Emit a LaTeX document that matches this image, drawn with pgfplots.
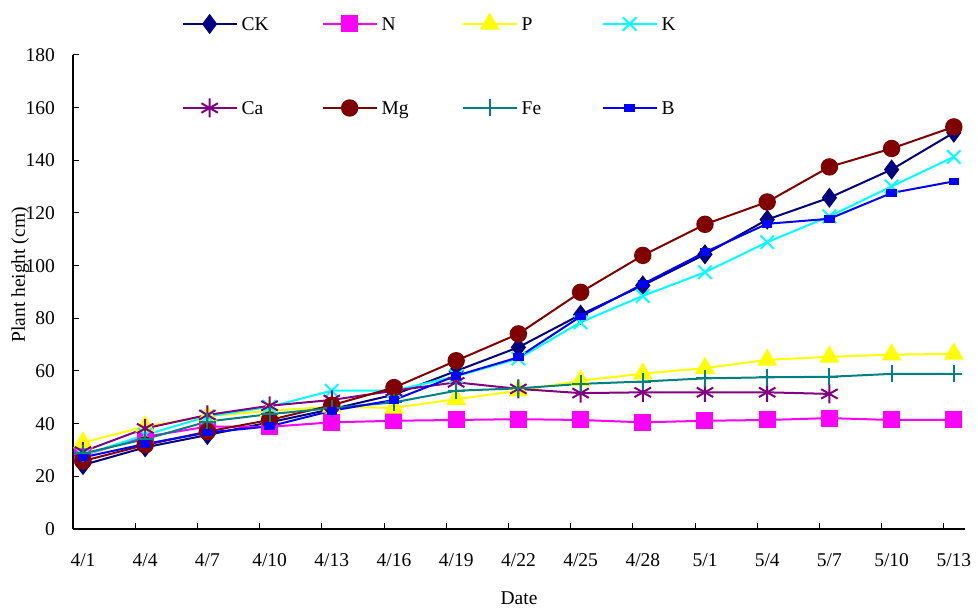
\documentclass[border=0pt]{standalone}
\usepackage{fontspec}
\setmainfont{Liberation Serif}
\usepackage{pgfplots}
\pgfplotsset{compat=1.18}
\definecolor{ckc}{RGB}{0,0,128}
\definecolor{nc}{RGB}{255,0,255}
\definecolor{pc}{RGB}{255,255,0}
\definecolor{kc}{RGB}{0,255,255}
\definecolor{cac}{RGB}{128,0,128}
\definecolor{mgc}{RGB}{128,0,0}
\definecolor{fec}{RGB}{0,128,128}
\definecolor{bc}{RGB}{0,0,255}
\newcommand{\lt}[1]{\makebox[84pt][l]{\hspace{4pt}#1}}
\begin{document}
\begin{tikzpicture}
\begin{axis}[
  scale only axis, width=892pt, height=474pt,
  xmin=-0.16, xmax=14.18, ymin=0, ymax=180,
  clip=false,
  font=\fontsize{19.5pt}{23pt}\selectfont,
  /pgf/number format/assume math mode=true,
  axis x line=bottom, axis y line=left,
  axis line style={-, line width=1.2pt, black},
  xtick={-0.16,0.84,1.84,2.84,3.84,4.84,5.84,6.84,7.84,8.84,9.84,10.84,11.84,12.84,13.84},
  xticklabels={4/1,4/4,4/7,4/10,4/13,4/16,4/19,4/22,4/25,4/28,5/1,5/4,5/7,5/10,5/13},
  ytick={0,20,...,180},
  tick align=inside, major tick length=6pt,
  tick style={black, line width=1pt},
  xticklabel style={inner sep=0pt, anchor=north, xshift=10pt, yshift=-24pt},
  yticklabel style={inner sep=0pt, anchor=east, xshift=-18pt},
  xlabel={Date},
  xlabel style={at={(axis description cs:0.5,0)}, anchor=base, yshift=-76pt, inner sep=0pt},
  ylabel={Plant height (cm)},
  ylabel style={at={(axis description cs:0,0.536)}, anchor=base, yshift=48pt, inner sep=0pt},
  legend columns=4,
  legend cell align=left,
  legend style={at={(0.1216,0.9768)}, anchor=west, draw=none, fill=none, inner sep=0pt,
    nodes={inner sep=0pt, text height=14pt, text depth=1pt},
    column sep=0pt, row sep=66pt},
  legend image code/.code={\draw[mark repeat=2,mark phase=2,#1] plot coordinates {(0pt,0pt) (27pt,0pt) (54pt,0pt)};},
  every axis plot/.append style={line width=2pt},
]
\addplot[color=ckc, mark=diamond*, mark size=8.5pt, mark options={solid, fill=ckc}] coordinates {
(0,24.3)(1,31.0)(2,35.7)(3,40.5)(4,45.5)(5,51)(6,60)(7,69)(8,81.4)(9,92.5)(10,104.3)(11,117.5)(12,125.8)(13,136.5)(14,150.5)};
\addlegendentry{\lt{CK}}
\addplot[color=nc, mark=square*, mark size=7.5pt, mark options={solid, fill=nc}] coordinates {
(0,28)(1,35)(2,38.9)(3,38.8)(4,40.5)(5,41.1)(6,41.4)(7,41.7)(8,41.4)(9,40.5)(10,41.1)(11,41.4)(12,42.1)(13,41.4)(14,41.4)};
\addlegendentry{\lt{N}}
\addplot[color=pc, mark=triangle*, mark size=9.5pt, mark options={solid, fill=pc}] coordinates {
(0,32.8)(1,38.9)(2,42.8)(3,44.9)(4,46.4)(5,46)(6,49.3)(7,52.5)(8,56.3)(9,59)(10,61.1)(11,64.2)(12,65.4)(13,66.2)(14,66.5)};
\addlegendentry{\lt{P}}
\addplot[color=kc, mark=x, mark size=9.5pt, mark options={solid, line width=2pt}] coordinates {
(0,28)(1,35.7)(2,42.7)(3,46.4)(4,52.5)(5,52.5)(6,58)(7,64.7)(8,78.5)(9,88.5)(10,97.5)(11,108.9)(12,118.7)(13,130.1)(14,141.3)};
\addlegendentry{\lt{K}}
\addplot[color=cac, mark=asterisk, mark size=9.5pt, mark options={solid, line width=2pt}] coordinates {
(0,29.4)(1,38.2)(2,43.3)(3,46.8)(4,49)(5,52.5)(6,55.7)(7,53.2)(8,51.6)(9,51.9)(10,51.9)(11,51.9)(12,51.3)};
\addlegendentry{\lt{Ca}}
\addplot[color=mgc, mark=*, mark size=7.7pt, mark options={solid, fill=mgc}] coordinates {
(0,25.8)(1,31.9)(2,37)(3,41.4)(4,47)(5,53.7)(6,63.9)(7,74.1)(8,89.9)(9,103.9)(10,115.7)(11,124.2)(12,137.5)(13,144.5)(14,152.7)};
\addlegendentry{\lt{Mg}}
\addplot[color=fec, mark=+, mark size=8.5pt, mark options={solid, line width=2pt}] coordinates {
(0,28.7)(1,34.1)(2,40.8)(3,43.6)(4,45.9)(5,48.1)(6,52.5)(7,53.4)(8,55.1)(9,56)(10,57.2)(11,57.6)(12,57.8)(13,58.9)(14,58.9)};
\addlegendentry{\lt{Fe}}
\addplot[color=bc, mark=square*, mark size=2.8pt, mark options={solid, fill=bc, xscale=1.5}] coordinates {
(0,27.2)(1,32.3)(2,36.6)(3,39)(4,44.9)(5,49)(6,58.2)(7,65.2)(8,80.7)(9,93)(10,105.1)(11,115.9)(12,117.8)(13,127.6)(14,132)};
\addlegendentry{\lt{B}}
\end{axis}
\pgfresetboundingbox
\path[use as bounding box] (-73pt,-80pt) rectangle (905pt,529pt);
\end{tikzpicture}
\end{document}
